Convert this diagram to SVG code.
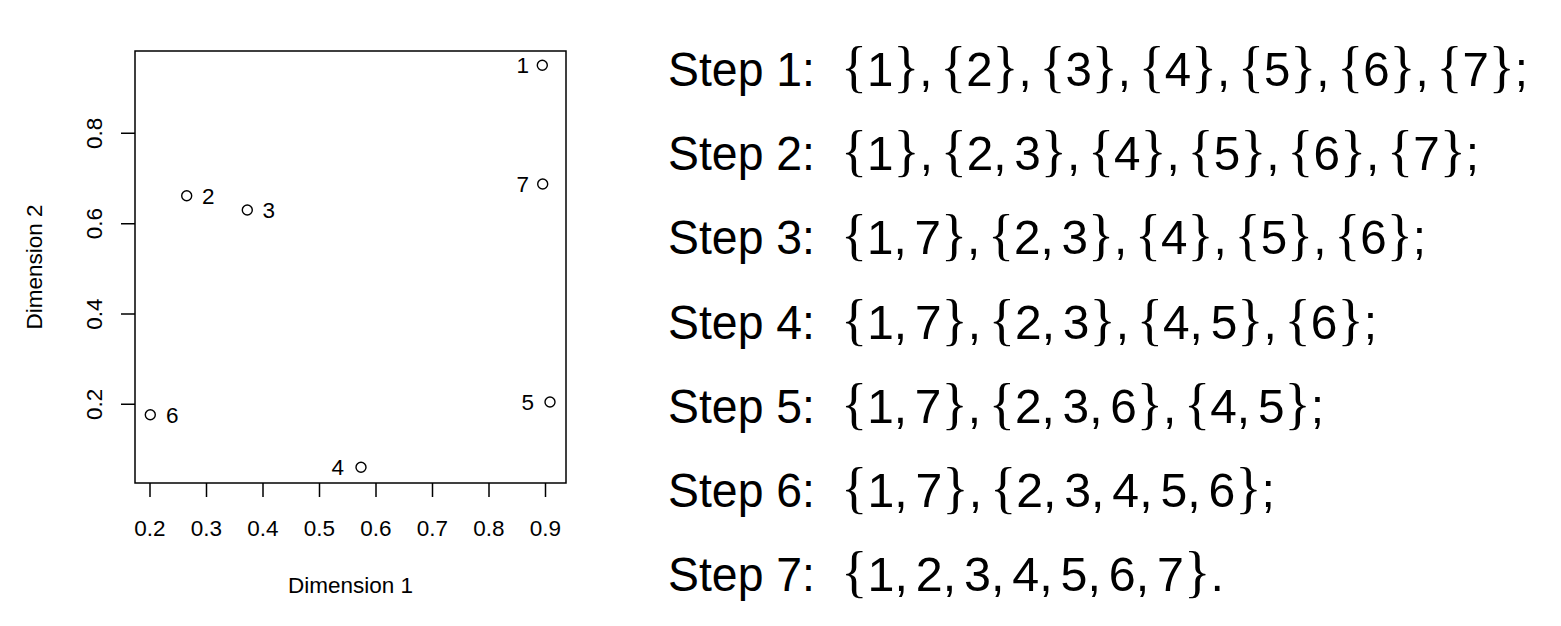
<svg xmlns="http://www.w3.org/2000/svg" width="1561" height="626" viewBox="0 0 1561 626">
<style>
.ax{fill:none;stroke:#000;stroke-width:1.5}
.pt{fill:none;stroke:#000;stroke-width:1.4}
.pl{font-family:"Liberation Sans",Arial,Helvetica,sans-serif;font-size:22.5px;fill:#000}
.st{font-family:"Liberation Sans",Arial,Helvetica,sans-serif;font-size:49px;fill:#000}
.e{font-family:"Liberation Sans",Arial,Helvetica,sans-serif;font-size:49px;fill:#000}
.b{font-family:"Liberation Serif","Times New Roman",serif;font-size:56px}
</style>
<rect width="1561" height="626" fill="#fff"/>
<g id="plot">
  <g id="axes">
    <rect class="ax" x="135" y="51" width="431" height="432"/>
    <path class="ax" d="M150 483V497M206.5 483V497M263 483V497M319.5 483V497M376 483V497M432.5 483V497M489 483V497M545.5 483V497"/>
    <path class="ax" d="M135 404.3H121M135 314H121M135 223.7H121M135 133.3H121"/>
    <g class="pl" text-anchor="middle">
      <text x="150" y="536">0.2</text>
      <text x="206.5" y="536">0.3</text>
      <text x="263" y="536">0.4</text>
      <text x="319.5" y="536">0.5</text>
      <text x="376" y="536">0.6</text>
      <text x="432.5" y="536">0.7</text>
      <text x="489" y="536">0.8</text>
      <text x="545.5" y="536">0.9</text>
      <text transform="translate(101.7 404.3) rotate(-90)">0.2</text>
      <text transform="translate(101.7 314) rotate(-90)">0.4</text>
      <text transform="translate(101.7 223.7) rotate(-90)">0.6</text>
      <text transform="translate(101.7 133.3) rotate(-90)">0.8</text>
      <text x="350.5" y="593">Dimension 1</text>
      <text transform="translate(42 267) rotate(-90)">Dimension 2</text>
    </g>
  </g>
  <g id="p1"><circle class="pt" cx="542.3" cy="65.3" r="5"/><text class="pl" x="529" y="73" text-anchor="end">1</text></g>
  <g id="p2"><circle class="pt" cx="186.7" cy="195.7" r="5"/><text class="pl" x="202" y="203.7">2</text></g>
  <g id="p3"><circle class="pt" cx="247.3" cy="210" r="5"/><text class="pl" x="262.6" y="218">3</text></g>
  <g id="p4"><circle class="pt" cx="361" cy="467.3" r="5"/><text class="pl" x="344" y="475.3" text-anchor="end">4</text></g>
  <g id="p5"><circle class="pt" cx="550" cy="402" r="5"/><text class="pl" x="534" y="410" text-anchor="end">5</text></g>
  <g id="p6"><circle class="pt" cx="150.3" cy="414.7" r="5"/><text class="pl" x="166" y="422.7">6</text></g>
  <g id="p7"><circle class="pt" cx="542.7" cy="184" r="5"/><text class="pl" x="529" y="192" text-anchor="end">7</text></g>
</g>
<g id="steps">
  <g id="step1">
    <text class="st" x="668" y="86" textLength="147" lengthAdjust="spacingAndGlyphs">Step 1:</text>
    <text class="e" x="841" y="86" textLength="687" lengthAdjust="spacingAndGlyphs"><tspan class="b">{</tspan>1<tspan class="b">}</tspan>,<tspan class="b" dx="8">{</tspan>2<tspan class="b">}</tspan>,<tspan class="b" dx="8">{</tspan>3<tspan class="b">}</tspan>,<tspan class="b" dx="8">{</tspan>4<tspan class="b">}</tspan>,<tspan class="b" dx="8">{</tspan>5<tspan class="b">}</tspan>,<tspan class="b" dx="8">{</tspan>6<tspan class="b">}</tspan>,<tspan class="b" dx="8">{</tspan>7<tspan class="b">}</tspan>;</text>
  </g>
  <g id="step2">
    <text class="st" x="668" y="170.2" textLength="147" lengthAdjust="spacingAndGlyphs">Step 2:</text>
    <text class="e" x="841" y="170.2" textLength="638" lengthAdjust="spacingAndGlyphs"><tspan class="b">{</tspan>1<tspan class="b">}</tspan>,<tspan class="b" dx="8">{</tspan>2,<tspan dx="8">3</tspan><tspan class="b">}</tspan>,<tspan class="b" dx="8">{</tspan>4<tspan class="b">}</tspan>,<tspan class="b" dx="8">{</tspan>5<tspan class="b">}</tspan>,<tspan class="b" dx="8">{</tspan>6<tspan class="b">}</tspan>,<tspan class="b" dx="8">{</tspan>7<tspan class="b">}</tspan>;</text>
  </g>
  <g id="step3">
    <text class="st" x="668" y="254.4" textLength="147" lengthAdjust="spacingAndGlyphs">Step 3:</text>
    <text class="e" x="841" y="254.4" textLength="585" lengthAdjust="spacingAndGlyphs"><tspan class="b">{</tspan>1,<tspan dx="8">7</tspan><tspan class="b">}</tspan>,<tspan class="b" dx="8">{</tspan>2,<tspan dx="8">3</tspan><tspan class="b">}</tspan>,<tspan class="b" dx="8">{</tspan>4<tspan class="b">}</tspan>,<tspan class="b" dx="8">{</tspan>5<tspan class="b">}</tspan>,<tspan class="b" dx="8">{</tspan>6<tspan class="b">}</tspan>;</text>
  </g>
  <g id="step4">
    <text class="st" x="668" y="338.6" textLength="147" lengthAdjust="spacingAndGlyphs">Step 4:</text>
    <text class="e" x="841" y="338.6" textLength="536" lengthAdjust="spacingAndGlyphs"><tspan class="b">{</tspan>1,<tspan dx="8">7</tspan><tspan class="b">}</tspan>,<tspan class="b" dx="8">{</tspan>2,<tspan dx="8">3</tspan><tspan class="b">}</tspan>,<tspan class="b" dx="8">{</tspan>4,<tspan dx="8">5</tspan><tspan class="b">}</tspan>,<tspan class="b" dx="8">{</tspan>6<tspan class="b">}</tspan>;</text>
  </g>
  <g id="step5">
    <text class="st" x="668" y="422.8" textLength="147" lengthAdjust="spacingAndGlyphs">Step 5:</text>
    <text class="e" x="841" y="422.8" textLength="483" lengthAdjust="spacingAndGlyphs"><tspan class="b">{</tspan>1,<tspan dx="8">7</tspan><tspan class="b">}</tspan>,<tspan class="b" dx="8">{</tspan>2,<tspan dx="8">3,</tspan><tspan dx="8">6</tspan><tspan class="b">}</tspan>,<tspan class="b" dx="8">{</tspan>4,<tspan dx="8">5</tspan><tspan class="b">}</tspan>;</text>
  </g>
  <g id="step6">
    <text class="st" x="668" y="507" textLength="147" lengthAdjust="spacingAndGlyphs">Step 6:</text>
    <text class="e" x="841" y="507" textLength="434" lengthAdjust="spacingAndGlyphs"><tspan class="b">{</tspan>1,<tspan dx="8">7</tspan><tspan class="b">}</tspan>,<tspan class="b" dx="8">{</tspan>2,<tspan dx="8">3,</tspan><tspan dx="8">4,</tspan><tspan dx="8">5,</tspan><tspan dx="8">6</tspan><tspan class="b">}</tspan>;</text>
  </g>
  <g id="step7">
    <text class="st" x="668" y="591.2" textLength="147" lengthAdjust="spacingAndGlyphs">Step 7:</text>
    <text class="e" x="841" y="591.2" textLength="383" lengthAdjust="spacingAndGlyphs"><tspan class="b">{</tspan>1,<tspan dx="8">2,</tspan><tspan dx="8">3,</tspan><tspan dx="8">4,</tspan><tspan dx="8">5,</tspan><tspan dx="8">6,</tspan><tspan dx="8">7</tspan><tspan class="b">}</tspan>.</text>
  </g>
</g>
</svg>
